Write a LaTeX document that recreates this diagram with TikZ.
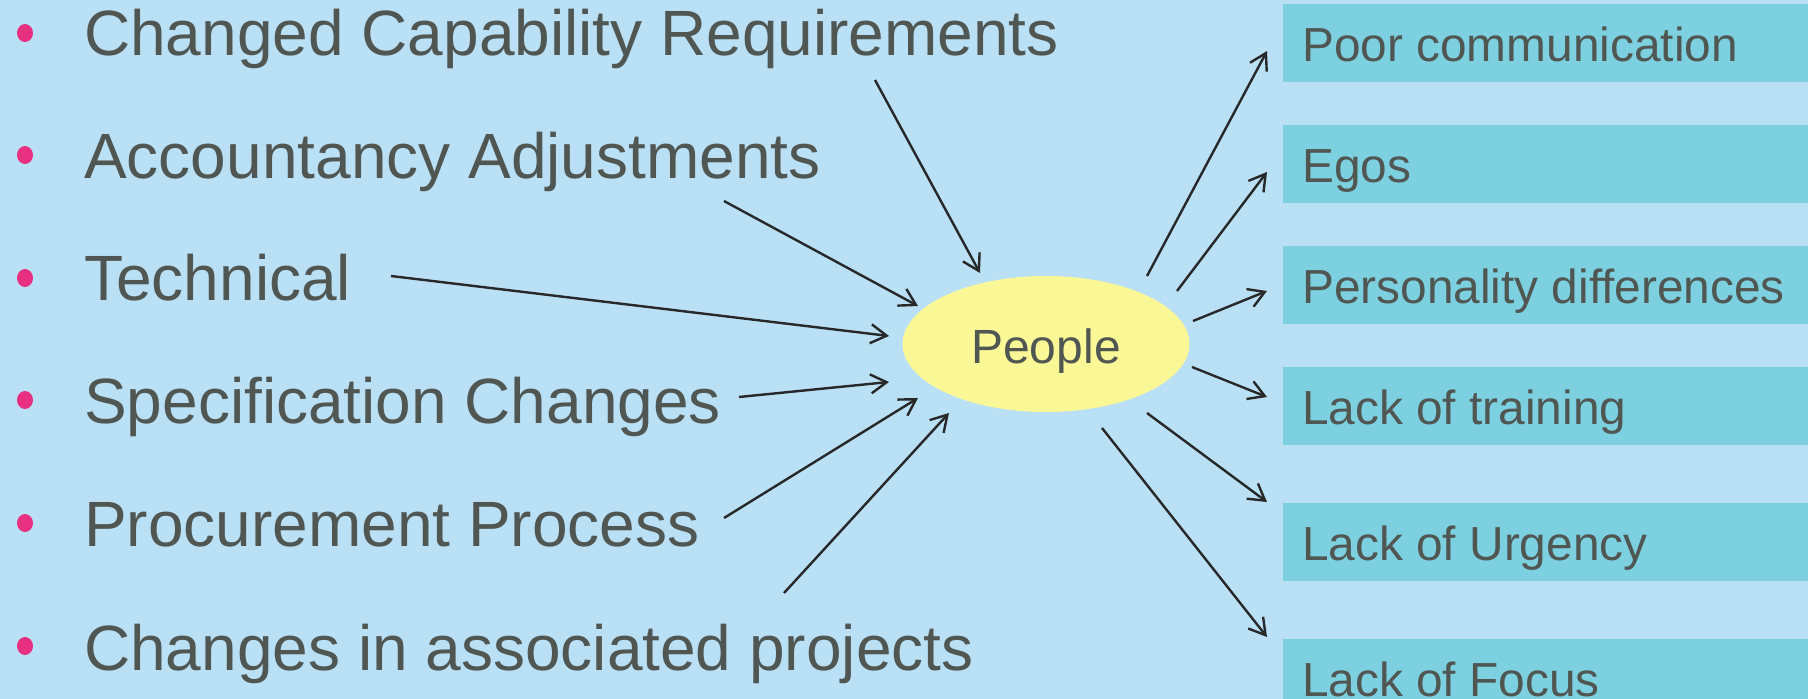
\documentclass[tikz,border=0pt]{standalone}
\usepackage{fontspec}
\setmainfont{Liberation Sans}
\usetikzlibrary{arrows.meta,shapes.geometric}

\definecolor{bgblue}{RGB}{186,224,246}
\definecolor{boxteal}{RGB}{125,208,224}
\definecolor{ovalyellow}{RGB}{249,247,150}
\definecolor{inkgray}{RGB}{80,86,81}
\definecolor{bulletpink}{RGB}{232,48,128}
\definecolor{arrowink}{RGB}{40,40,40}

\tikzset{
  cause/.style={anchor=base west, inner sep=0pt, text=inkgray,
    font=\fontsize{64}{77}\selectfont},
  dot/.style={ellipse, fill=bulletpink, minimum width=16pt, minimum height=18pt, inner sep=0pt},
  effectbox/.style={anchor=north west, fill=boxteal, minimum width=525pt,
    minimum height=78pt, inner sep=0pt},
  effect/.style={anchor=base west, inner sep=0pt, text=inkgray,
    font=\fontsize{47.8}{57}\selectfont},
  hub/.style={ellipse, fill=ovalyellow, minimum width=287pt, minimum height=136pt,
    inner sep=0pt, text=inkgray, text height=38pt, text depth=0pt,
    font=\fontsize{48}{57}\selectfont},
  link/.style={draw=arrowink, line width=2.4pt,
    -{Straight Barb[length=16pt, width=19pt, line width=2.4pt]}}
}

\begin{document}
\begin{tikzpicture}[x=1pt, y=-1pt]
  % canvas
  \fill[bgblue] (0,0) rectangle (1808,699);
  \useasboundingbox (0,0) rectangle (1808,699);

  % bulleted list of causes
  \node[dot] (d1) at (25,33)  {};
  \node[dot] (d2) at (25,155) {};
  \node[dot] (d3) at (25,278) {};
  \node[dot] (d4) at (25,400) {};
  \node[dot] (d5) at (25,523) {};
  \node[dot] (d6) at (25,646) {};
  \node[cause] (c1) at (84,55)  {Changed Capability Requirements};
  \node[cause] (c2) at (84,178) {Accountancy Adjustments};
  \node[cause] (c3) at (84,300) {Technical};
  \node[cause] (c4) at (84,423) {Specification Changes};
  \node[cause] (c5) at (84,546) {Procurement Process};
  \node[cause] (c6) at (84,670) {Changes in associated projects};

  % central node
  \node[hub] (people) at (1046,344) {People};

  % effect boxes
  \node[effectbox] (b1) at (1283,4)   {};
  \node[effectbox] (b2) at (1283,125) {};
  \node[effectbox] (b3) at (1283,246) {};
  \node[effectbox] (b4) at (1283,367) {};
  \node[effectbox] (b5) at (1283,503) {};
  \node[effectbox, minimum height=60pt] (b6) at (1283,639) {};
  \node[effect] (e1) at (1302,61)  {Poor communication};
  \node[effect] (e2) at (1302,182) {Egos};
  \node[effect] (e3) at (1302,303) {Personality differences};
  \node[effect] (e4) at (1302,424) {Lack of training};
  \node[effect] (e5) at (1302,560) {Lack of Urgency};
  \node[effect] (e6) at (1302,696) {Lack of Focus};

  % connector end points
  \coordinate (i1s) at (875,80);   \coordinate (i1e) at (980,273);
  \coordinate (i2s) at (724,201);  \coordinate (i2e) at (918,306);
  \coordinate (i3s) at (391,276);  \coordinate (i3e) at (889,336);
  \coordinate (i4s) at (739,397);  \coordinate (i4e) at (889,382);
  \coordinate (i5s) at (724,518);  \coordinate (i5e) at (918,398);
  \coordinate (i6s) at (784,593);  \coordinate (i6e) at (949,413);
  \coordinate (o1s) at (1147,276); \coordinate (o1e) at (1267,51);
  \coordinate (o2s) at (1177,291); \coordinate (o2e) at (1267,172);
  \coordinate (o3s) at (1193,321); \coordinate (o3e) at (1267,291);
  \coordinate (o4s) at (1192,367); \coordinate (o4e) at (1267,397);
  \coordinate (o5s) at (1147,413); \coordinate (o5e) at (1267,502);
  \coordinate (o6s) at (1102,428); \coordinate (o6e) at (1267,637);

  % incoming arrows
  \foreach \k in {1,...,6} \draw[link] (i\k s) -- (i\k e);
  % outgoing arrows
  \foreach \k in {1,...,6} \draw[link] (o\k s) -- (o\k e);
\end{tikzpicture}
\end{document}
